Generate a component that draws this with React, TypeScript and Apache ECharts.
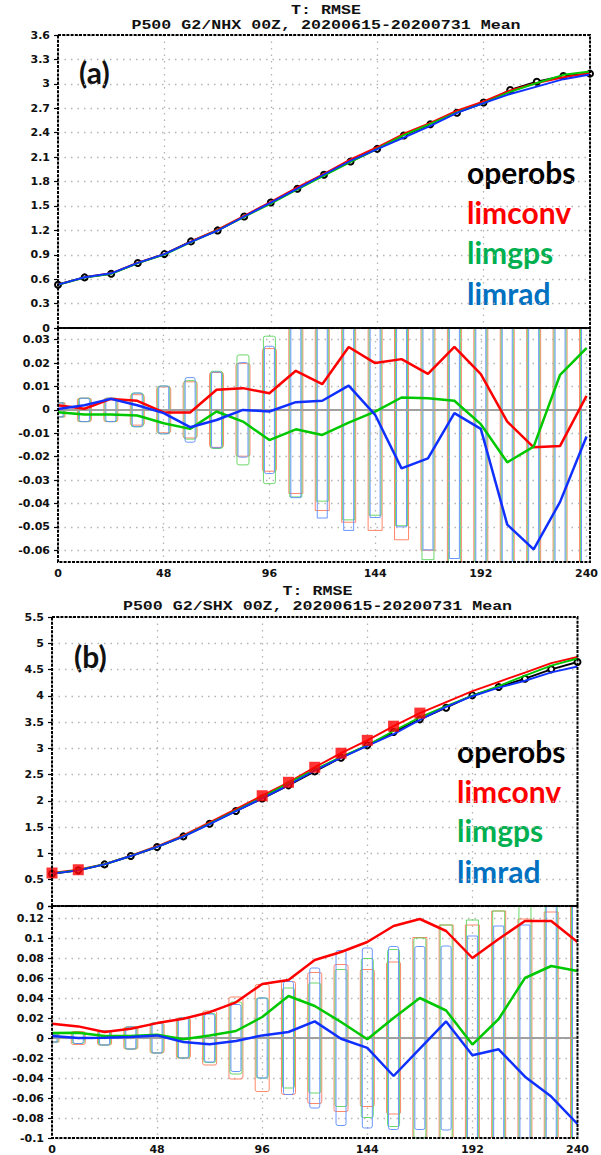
import React, { useEffect, useRef } from "react";
import * as echarts from "echarts";

// ---------- data ----------
const hours = [0, 12, 24, 36, 48, 60, 72, 84, 96, 108, 120, 132, 144, 156, 168, 180, 192, 204, 216, 228, 240];
const hourTicks = [0, 48, 96, 144, 192, 240];
const titleLine1 = "T: RMSE";
const titleA = "P500 G2/NHX 00Z, 20200615-20200731 Mean";
const titleB = "P500 G2/SHX 00Z, 20200615-20200731 Mean";
const expNames = ["operobs", "limconv", "limgps", "limrad"];

// Panel (a): NHX RMSE
const nhxOperobs = [0.532, 0.622, 0.667, 0.798, 0.908, 1.064, 1.199, 1.370, 1.542, 1.710, 1.882, 2.045, 2.201, 2.365, 2.504, 2.645, 2.770, 2.924, 3.026, 3.096, 3.125];
const nhxLimconv = [0.534, 0.623, 0.672, 0.802, 0.907, 1.063, 1.208, 1.379, 1.549, 1.727, 1.893, 2.072, 2.221, 2.387, 2.519, 2.672, 2.785, 2.919, 3.010, 3.081, 3.131];
const nhxLimgps = [0.531, 0.620, 0.665, 0.796, 0.902, 1.056, 1.198, 1.365, 1.529, 1.702, 1.871, 2.040, 2.200, 2.370, 2.509, 2.649, 2.764, 2.902, 3.010, 3.111, 3.151];
const nhxLimrad = [0.532, 0.624, 0.672, 0.800, 0.907, 1.057, 1.195, 1.370, 1.541, 1.713, 1.886, 2.055, 2.199, 2.340, 2.483, 2.644, 2.762, 2.875, 2.966, 3.057, 3.114];
// Panel (a): differences from operobs
const nhxDiffLimconv = [0.002, 0.0005, 0.0047, 0.0039, -0.0011, -0.0011, 0.0086, 0.0093, 0.0071, 0.0167, 0.011, 0.0269, 0.020, 0.0217, 0.0154, 0.0269, 0.0153, -0.005, -0.016, -0.0154, 0.006];
const nhxDiffLimgps = [-0.001, -0.002, -0.002, -0.0024, -0.0057, -0.0081, -0.0007, -0.005, -0.0129, -0.0083, -0.0107, -0.0054, -0.0007, 0.0053, 0.005, 0.0039, -0.0061, -0.0224, -0.0157, 0.015, 0.0264];
const nhxDiffLimrad = [0.0004, 0.002, 0.0047, 0.002, -0.0014, -0.0074, -0.0043, 0, -0.0007, 0.0033, 0.0039, 0.0104, -0.0021, -0.025, -0.0207, -0.0014, -0.0081, -0.049, -0.0596, -0.0393, -0.0114];
// Panel (a): significance box half-heights
const nhxBoxLimconv = [0.003, 0.005, 0.005, 0.0065, 0.0098, 0.012, 0.016, 0.0198, 0.0262, 0.0357, 0.043, 0.048, 0.0515, 0.0555, 0.060, 0.068, 0.072, 0.078, 0.082, 0.086, 0.090];
const nhxBoxLimgps = [0.003, 0.005, 0.005, 0.0072, 0.0102, 0.0125, 0.0165, 0.0235, 0.0315, 0.0372, 0.039, 0.047, 0.045, 0.0495, 0.064, 0.070, 0.074, 0.080, 0.085, 0.089, 0.093];
const nhxBoxLimrad = [0.003, 0.005, 0.005, 0.0072, 0.0102, 0.0138, 0.0162, 0.0202, 0.0272, 0.0375, 0.0462, 0.0515, 0.046, 0.050, 0.0598, 0.0635, 0.070, 0.076, 0.080, 0.084, 0.088];
const nhxDiffGrid = [-0.06, -0.05, -0.04, -0.03, -0.02, -0.01, 0.01, 0.02, 0.03];

// Panel (b): SHX RMSE
const shxOperobs = [0.614, 0.678, 0.792, 0.950, 1.122, 1.325, 1.566, 1.807, 2.045, 2.296, 2.562, 2.822, 3.057, 3.310, 3.552, 3.774, 4.009, 4.167, 4.326, 4.504, 4.643];
const shxLimconv = [0.628, 0.690, 0.798, 0.959, 1.137, 1.344, 1.592, 1.843, 2.099, 2.354, 2.640, 2.908, 3.153, 3.422, 3.671, 3.881, 4.089, 4.266, 4.443, 4.621, 4.739];
const shxLimgps = [0.619, 0.683, 0.794, 0.952, 1.125, 1.324, 1.569, 1.814, 2.066, 2.338, 2.594, 2.838, 3.056, 3.330, 3.592, 3.802, 4.002, 4.186, 4.386, 4.576, 4.710];
const shxLimrad = [0.616, 0.678, 0.792, 0.951, 1.125, 1.321, 1.560, 1.804, 2.048, 2.302, 2.579, 2.821, 3.047, 3.272, 3.541, 3.791, 3.992, 4.156, 4.287, 4.445, 4.557];
const shxLimconvSignificant = [0, 12, 96, 108, 120, 132, 144, 156, 168];
// Panel (b): differences from operobs
const shxDiffLimconv = [0.0142, 0.0116, 0.006, 0.0093, 0.0149, 0.0192, 0.0258, 0.0357, 0.054, 0.058, 0.078, 0.086, 0.096, 0.112, 0.119, 0.107, 0.080, 0.099, 0.117, 0.117, 0.096];
const shxDiffLimgps = [0.005, 0.0053, 0.002, 0.002, 0.0033, -0.0013, 0.0026, 0.007, 0.021, 0.042, 0.032, 0.016, -0.0013, 0.02, 0.040, 0.0275, -0.0066, 0.019, 0.060, 0.072, 0.067];
const shxDiffLimrad = [0.002, 0, 0.0003, 0.001, 0.0026, -0.004, -0.0063, -0.003, 0.0026, 0.006, 0.0166, -0.0007, -0.0099, -0.038, -0.0106, 0.0166, -0.0172, -0.0113, -0.0387, -0.0586, -0.086];
// Panel (b): significance box half-heights
const shxBoxLimconv = [0.004, 0.0065, 0.007, 0.011, 0.015, 0.020, 0.027, 0.041, 0.0535, 0.0565, 0.0655, 0.0735, 0.0685, 0.076, 0.1005, 0.113, 0.113, 0.127, 0.119, 0.126, 0.140];
const shxBoxLimgps = [0.004, 0.0055, 0.007, 0.011, 0.015, 0.020, 0.0245, 0.036, 0.040, 0.050, 0.055, 0.0685, 0.0795, 0.0885, 0.100, 0.113, 0.118, 0.127, 0.135, 0.138, 0.145];
const shxBoxLimrad = [0.004, 0.0055, 0.007, 0.011, 0.015, 0.020, 0.024, 0.0335, 0.040, 0.0565, 0.070, 0.0875, 0.090, 0.0915, 0.0915, 0.092, 0.102, 0.112, 0.113, 0.135, 0.140];

// ---------- styles / layout ----------
const COLORS = { operobs: "#000000", limconv: "#ff0000", limgps: "#00c800", limrad: "#1030ff" };
const LEGEND_COLORS = ["#000000", "#ff0000", "#00b050", "#0070c0"];
const BOX_STYLE = [
  { color: "#ff7a5a", width: 14 },
  { color: "#5ad45a", width: 12 },
  { color: "#5a8cff", width: 10 },
];
const GRIDS = [
  { left: 58, top: 35, width: 532, height: 293 },
  { left: 58, top: 328, width: 532, height: 234 },
  { left: 52, top: 617, width: 525.5, height: 289 },
  { left: 52, top: 906, width: 525.5, height: 232 },
];
const TICK_FONT = { fontFamily: "DejaVu Sans", fontWeight: "bold" as const, fontSize: 11, color: "#111" };
const DOT_LINE = { color: "#b4b4b4", width: 1.3, type: [1.5, 5] as number[] };

const pairs = (vals: number[]) => hours.map((h, i) => [h, vals[i]]);

function boxRender(params: any, api: any) {
  const cs = params.coordSys;
  const h = api.value(0);
  const children: any[] = [];
  const x0c = cs.x, x1c = cs.x + cs.width, y0c = cs.y, y1c = cs.y + cs.height;
  BOX_STYLE.forEach((bs, k) => {
    const half = api.value(k + 1);
    const pT = api.coord([h, half]);
    const pB = api.coord([h, -half]);
    const xl = pT[0] - bs.width / 2;
    const xr = pT[0] + bs.width / 2;
    const style = { stroke: bs.color, lineWidth: 1, fill: "none", opacity: 0.9 };
    const inside = pT[1] >= y0c && pB[1] <= y1c && xl >= x0c && xr <= x1c;
    if (inside) {
      children.push({ type: "rect", shape: { x: xl, y: pT[1], width: bs.width, height: pB[1] - pT[1], r: 2 }, style });
      return;
    }
    const yt = Math.max(pT[1], y0c);
    const yb = Math.min(pB[1], y1c);
    const cl = Math.max(xl, x0c);
    const cr = Math.min(xr, x1c);
    if (xl >= x0c) children.push({ type: "line", shape: { x1: xl, y1: yt, x2: xl, y2: yb }, style });
    if (xr <= x1c) children.push({ type: "line", shape: { x1: xr, y1: yt, x2: xr, y2: yb }, style });
    if (pT[1] >= y0c) children.push({ type: "line", shape: { x1: cl, y1: pT[1], x2: cr, y2: pT[1] }, style });
    if (pB[1] <= y1c) children.push({ type: "line", shape: { x1: cl, y1: pB[1], x2: cr, y2: pB[1] }, style });
  });
  return { type: "group", children };
}

function xAxisFor(gridIndex: number, showLabels: boolean) {
  return {
    type: "value",
    gridIndex,
    min: hourTicks[0],
    max: hourTicks[hourTicks.length - 1],
    interval: hourTicks[1] - hourTicks[0],
    axisLine: { show: false },
    axisTick: { show: false },
    axisLabel: { show: showLabels, margin: 6, ...TICK_FONT },
    splitLine: { show: true, lineStyle: DOT_LINE },
  };
}

function rmseSeries(g: number, vals: number[][]) {
  const names = expNames;
  return vals.map((v, k) => ({
    type: "line",
    name: names[k] + g,
    xAxisIndex: g,
    yAxisIndex: g,
    data: pairs(v),
    symbol: k === 0 ? "emptyCircle" : "none",
    symbolSize: 6,
    itemStyle: { color: "#000", borderWidth: 1.5 },
    lineStyle: { color: (COLORS as any)[names[k]], width: 1.9 },
    z: 3 + k,
  }));
}

function diffSeries(g: number, vals: number[][]) {
  const names = expNames.slice(1);
  return vals.map((v, k) => ({
    type: "line",
    name: names[k] + "diff" + g,
    xAxisIndex: g,
    yAxisIndex: g,
    data: pairs(v),
    symbol: "none",
    lineStyle: { color: (COLORS as any)[names[k]], width: 2.5 },
    z: 5 + k,
  }));
}

function buildOption() {
  const graphics: any[] = [];
  GRIDS.forEach((gr) => {
    graphics.push({
      type: "rect",
      shape: { x: gr.left, y: gr.top, width: gr.width, height: gr.height },
      style: { fill: "none", stroke: "#000", lineWidth: 2, lineDash: [3, 1.2] },
      z: 100,
      silent: true,
    });
  });
  const titleFont = { fontFamily: "Liberation Mono", fontWeight: "bold", fontSize: 13, fill: "#111", textAlign: "center", textVerticalAlign: "middle" };
  const titles = [
    { text: titleLine1, x: 326, y: 11 },
    { text: titleA, x: 326, y: 26 },
    { text: titleLine1, x: 317.5, y: 592 },
    { text: titleB, x: 317.5, y: 607 },
  ];
  titles.forEach((t) => graphics.push({ type: "text", x: t.x, y: t.y, scaleX: 1.28, style: { ...titleFont, text: t.text } }));
  const legendA = [172, 211.5, 252, 292.5];
  const legendB = [751, 790.5, 829.5, 870.5];
  const legendFont = { fontFamily: "Lato", fontWeight: "bold", fontSize: 30, textAlign: "left", textVerticalAlign: "middle" };
  expNames.forEach((n, k) => {
    graphics.push({ type: "text", x: 467, y: legendA[k], style: { ...legendFont, text: n, fill: LEGEND_COLORS[k] } });
    graphics.push({ type: "text", x: 457, y: legendB[k], style: { ...legendFont, text: n, fill: LEGEND_COLORS[k] } });
  });
  graphics.push({ type: "text", x: 79, y: 72, style: { text: "(a)", fontFamily: "Lato", fontWeight: "bold", fontSize: 30, fill: "#111", textAlign: "left", textVerticalAlign: "middle" } });
  graphics.push({ type: "text", x: 74, y: 656, style: { text: "(b)", fontFamily: "Lato", fontWeight: "bold", fontSize: 30, fill: "#111", textAlign: "left", textVerticalAlign: "middle" } });

  const yBase = {
    type: "value",
    axisLine: { show: false },
    axisTick: { show: true, inside: false, length: 4, lineStyle: { color: "#000", width: 1.2 } },
    axisLabel: { margin: 8, ...TICK_FONT },
    splitLine: { show: true, lineStyle: DOT_LINE },
  };

  const zeroMark = (extra: any[]) => ({
    silent: true,
    symbol: ["none", "none"],
    label: { show: false },
    animation: false,
    data: [
      ...extra.map((v) => ({ yAxis: v, lineStyle: DOT_LINE })),
      { yAxis: 0, lineStyle: { color: "#a0a0a0", width: 2, type: "solid" } },
    ],
  });

  return {
    animation: false,
    backgroundColor: "#ffffff",
    textStyle: { fontFamily: "DejaVu Sans" },
    grid: GRIDS.map((g) => ({ ...g, show: false, containLabel: false })),
    xAxis: [xAxisFor(0, false), xAxisFor(1, true), xAxisFor(2, false), xAxisFor(3, true)],
    yAxis: [
      { ...yBase, gridIndex: 0, min: 0, max: 3.6, interval: 0.3 },
      {
        ...yBase,
        gridIndex: 1,
        min: -0.065,
        max: 0.035,
        interval: 0.005,
        splitLine: { show: false },
        axisTick: { ...yBase.axisTick, customValues: [...nhxDiffGrid, 0] },
        axisLabel: {
          ...yBase.axisLabel,
          formatter: (v: number) => {
            const k = Math.round(v * 1000);
            return k % 10 === 0 ? String(k / 1000) : "";
          },
        },
      },
      { ...yBase, gridIndex: 2, min: 0, max: 5.5, interval: 0.5 },
      {
        ...yBase,
        gridIndex: 3,
        min: -0.1,
        max: 0.132,
        interval: 0.02,
        axisLabel: {
          ...yBase.axisLabel,
          formatter: (v: number) => {
            const k = Math.round(v * 1000);
            return k % 20 === 0 ? String(k / 1000) : "";
          },
        },
      },
    ],
    graphic: graphics,
    series: [
      ...rmseSeries(0, [nhxOperobs, nhxLimconv, nhxLimgps, nhxLimrad]),
      {
        type: "custom",
        name: "boxesA",
        xAxisIndex: 1,
        yAxisIndex: 1,
        renderItem: boxRender,
        data: hours.map((h, i) => [h, nhxBoxLimconv[i], nhxBoxLimgps[i], nhxBoxLimrad[i]]),
        encode: { x: 0, y: 1 },
        silent: true,
        z: 1,
        markLine: zeroMark(nhxDiffGrid),
      },
      ...diffSeries(1, [nhxDiffLimconv, nhxDiffLimgps, nhxDiffLimrad]),
      ...rmseSeries(2, [shxOperobs, shxLimconv, shxLimgps, shxLimrad]),
      {
        type: "scatter",
        name: "limconvSig",
        xAxisIndex: 2,
        yAxisIndex: 2,
        symbol: "rect",
        symbolSize: 11,
        itemStyle: { color: "#ff0000" },
        data: shxLimconvSignificant.map((h) => [h, shxLimconv[hours.indexOf(h)]]),
        z: 10,
      },
      {
        type: "custom",
        name: "boxesB",
        xAxisIndex: 3,
        yAxisIndex: 3,
        renderItem: boxRender,
        data: hours.map((h, i) => [h, shxBoxLimconv[i], shxBoxLimgps[i], shxBoxLimrad[i]]),
        encode: { x: 0, y: 1 },
        silent: true,
        z: 1,
        markLine: zeroMark([]),
      },
      ...diffSeries(3, [shxDiffLimconv, shxDiffLimgps, shxDiffLimrad]),
    ],
  };
}

export default function App() {
  const ref = useRef<HTMLDivElement>(null);
  useEffect(() => {
    document.body.style.margin = "0";
    if (!ref.current) return;
    const chart = echarts.init(ref.current, undefined, { renderer: "svg" });
    chart.setOption(buildOption() as any);
    return () => chart.dispose();
  }, []);
  return <div ref={ref} style={{ width: 601, height: 1155, background: "#fff" }} />;
}
